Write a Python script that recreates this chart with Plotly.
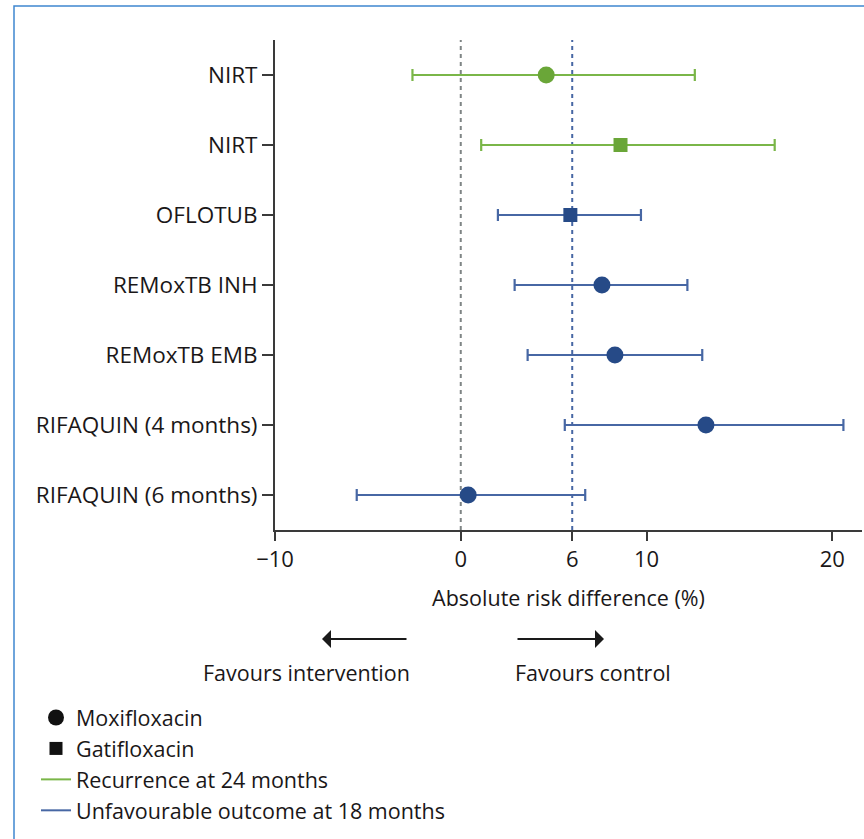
import plotly.graph_objects as go

# ---- data ----
trials = ["NIRT", "NIRT", "OFLOTUB", "REMoxTB INH", "REMoxTB EMB",
          "RIFAQUIN (4 months)", "RIFAQUIN (6 months)"]
estimate = [4.6, 8.6, 5.9, 7.6, 8.3, 13.2, 0.4]
lower = [-2.6, 1.1, 2.0, 2.9, 3.6, 5.6, -5.6]
upper = [12.6, 16.9, 9.7, 12.2, 13.0, 20.6, 6.7]
drug = ["Moxifloxacin", "Gatifloxacin", "Gatifloxacin", "Moxifloxacin",
        "Moxifloxacin", "Moxifloxacin", "Moxifloxacin"]
outcome = ["Recurrence at 24 months", "Recurrence at 24 months",
           "Unfavourable outcome at 18 months", "Unfavourable outcome at 18 months",
           "Unfavourable outcome at 18 months", "Unfavourable outcome at 18 months",
           "Unfavourable outcome at 18 months"]
ref_lines = [0, 6]
x_tickvals = [-10, 0, 6, 10, 20]
x_ticktext = ["\u221210", "0", "6", "10", "20"]

# ---- styles ----
FONT = "Open Sans"
TXT = "#1a1718"
line_col = {"Recurrence at 24 months": "#7ab648",
            "Unfavourable outcome at 18 months": "#4767a4"}
mark_col = {"Recurrence at 24 months": "#6aa638",
            "Unfavourable outcome at 18 months": "#264a87"}
symbol = {"Moxifloxacin": "circle", "Gatifloxacin": "square"}
msize = {"Moxifloxacin": 17, "Gatifloxacin": 14}
ref_col = ["#7f8585", "#4767a4"]

fig = go.Figure()
ypos = list(range(len(trials)))

for i in ypos:
    fig.add_trace(go.Scatter(
        x=[estimate[i]], y=[i], mode="markers",
        marker=dict(symbol=symbol[drug[i]], size=msize[drug[i]],
                    color=mark_col[outcome[i]], line=dict(width=0)),
        error_x=dict(type="data", symmetric=False,
                     array=[upper[i] - estimate[i]],
                     arrayminus=[estimate[i] - lower[i]],
                     color=line_col[outcome[i]], thickness=2.2, width=6),
        showlegend=False, hoverinfo="skip"))

for xv, c in zip(ref_lines, ref_col):
    fig.add_shape(type="line", x0=xv, x1=xv, y0=0, y1=1, xref="x", yref="paper",
                  line=dict(color=c, width=2, dash="4px,4px"), layer="below")

# legend entries
fig.add_trace(go.Scatter(x=[None], y=[None], mode="markers", name="Moxifloxacin",
                         marker=dict(symbol="circle", size=16, color="#111"),
                         legendgroup="a"))
fig.add_trace(go.Scatter(x=[None], y=[None], mode="markers", name="Gatifloxacin",
                         marker=dict(symbol="square", size=13, color="#111"),
                         legendgroup="b"))
for k, g in zip(line_col, ["c", "d"]):
    fig.add_trace(go.Scatter(x=[None], y=[None], mode="lines", name=k,
                             line=dict(color=line_col[k], width=2), legendgroup=g))

W, H = 864, 839
L, R, T, B = 275, 2, 40, 309
pw, ph = W - L - R, H - T - B

def px(xp):
    return (xp - L) / pw

def py(yp):
    return (H - B - yp) / ph

# arrows
fig.add_annotation(x=px(322), y=py(639), ax=86, ay=0, xref="paper", yref="paper",
                   axref="pixel", ayref="pixel", showarrow=True, arrowhead=1,
                   arrowsize=1.5, arrowwidth=2, arrowcolor="#1a1a1a", text="")
fig.add_annotation(x=px(604), y=py(639), ax=-88, ay=0, xref="paper", yref="paper",
                   axref="pixel", ayref="pixel", showarrow=True, arrowhead=1,
                   arrowsize=1.5, arrowwidth=2, arrowcolor="#1a1a1a", text="")
fig.add_annotation(x=px(306), y=py(672), xref="paper", yref="paper", showarrow=False,
                   xanchor="center", yanchor="middle",
                   text="Favours intervention", font=dict(size=21.5, color=TXT, family=FONT))
fig.add_annotation(x=px(593), y=py(672), xref="paper", yref="paper", showarrow=False,
                   xanchor="center", yanchor="middle",
                   text="Favours control", font=dict(size=21.5, color=TXT, family=FONT))

# outer frame
fig.add_shape(type="rect", x0=px(14), x1=px(W + 20), y0=py(H + 20), y1=py(6),
              xref="paper", yref="paper", line=dict(color="#3f86d0", width=1.5),
              layer="below")

fig.update_layout(
    width=W, height=H, margin=dict(l=L, r=R, t=T, b=B, pad=0),
    paper_bgcolor="white", plot_bgcolor="white",
    font=dict(family=FONT, size=21, color=TXT),
    showlegend=True,
    legend=dict(x=px(36), y=py(697), xanchor="left", yanchor="top",
                font=dict(size=21.5, color=TXT, family=FONT),
                tracegroupgap=0, itemwidth=30, bgcolor="rgba(0,0,0,0)"),
    xaxis=dict(range=[-10, 21.6], tickvals=x_tickvals, ticktext=x_ticktext,
               showgrid=False, zeroline=False, showline=True, linecolor="#3a3a3a",
               linewidth=2, ticks="outside", ticklen=9, tickwidth=2, tickcolor="#3a3a3a",
               tickfont=dict(size=22, color=TXT),
               title=dict(text="Absolute risk difference (%)", standoff=19,
                          font=dict(size=21.5, color=TXT))),
    yaxis=dict(range=[6.5, -0.5], tickvals=ypos, ticktext=trials,
               showgrid=False, zeroline=False, showline=True, linecolor="#3a3a3a",
               linewidth=2, ticks="outside", ticklen=11, tickwidth=2, tickcolor="#3a3a3a",
               tickfont=dict(size=22.5, color=TXT)),
)

fig.write_html("out.html")
